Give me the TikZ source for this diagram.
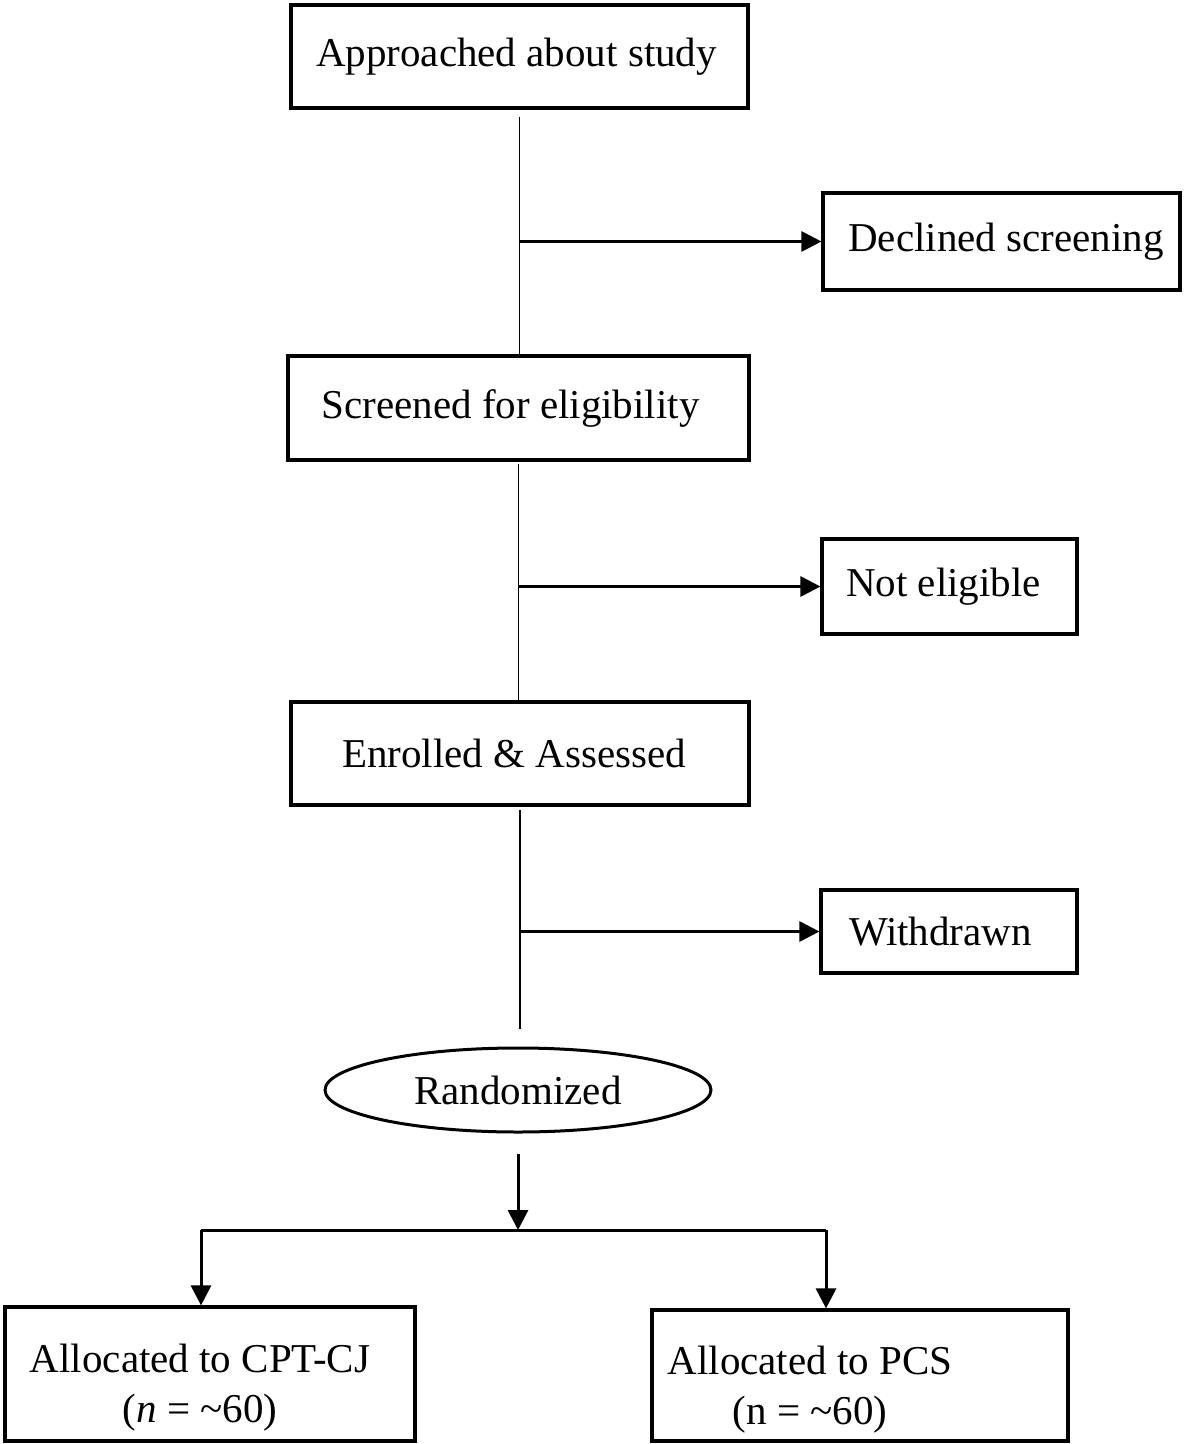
\documentclass[tikz,border=0pt]{standalone}
\usepackage{fontspec}
\setmainfont{Liberation Serif}
\usetikzlibrary{arrows.meta,shapes.geometric}

\begin{document}
\begin{tikzpicture}[x=0.5pt,y=0.5pt,yscale=-1,xscale=1,
  box/.style={draw,line width=1.6pt,inner sep=0pt,align=center,
    font=\fontsize{20.5}{25}\selectfont},
  oval/.style={draw,ellipse,line width=1.5pt,inner sep=0pt,
    font=\fontsize{20.5}{25}\selectfont},
  trunk/.style={line width=0.9pt},
  arr/.style={line width=1.5pt,-{Triangle[length=10pt,width=10pt]}}]
\useasboundingbox (0,0) rectangle (1184,1444);

%Shape: Rectangle
\node[box,minimum width=228.5pt,minimum height=51.5pt] (approach) at (519.5,56.5) {Approached about study\hspace*{3pt}};
%Shape: Rectangle
\node[box,minimum width=178.5pt,minimum height=48.5pt] (declined) at (1001.5,241.5) {\hspace*{4.5pt}Declined screening};
%Shape: Rectangle
\node[box,minimum width=230.5pt,minimum height=52pt] (screened) at (518.5,408) {Screened for eligibility\hspace*{8pt}};
%Shape: Rectangle
\node[box,minimum width=127.5pt,minimum height=47.5pt] (noteligible) at (949.5,586.5) {Not eligible\hspace*{6pt}};
%Shape: Rectangle
\node[box,minimum width=229pt,minimum height=51.5pt] (enrolled) at (520,753.5) {Enrolled \& Assessed\hspace*{6pt}};
%Shape: Rectangle
\node[box,minimum width=128pt,minimum height=41.5pt] (withdrawn) at (949,931.5) {Withdrawn\hspace*{8.5pt}};
%Shape: Ellipse
\node[oval,minimum width=193pt,minimum height=42pt] (random) at (518,1090) {Randomized};
%Shape: Rectangle
\node[box,minimum width=205pt,minimum height=67pt] (cptcj) at (210,1374)
  {\rule{0pt}{28pt}Allocated to CPT-CJ\hspace*{10pt}\\(\textit{n} = \textasciitilde60)\hspace*{10pt}};
%Shape: Rectangle
\node[box,minimum width=208pt,minimum height=65.5pt] (pcs) at (860,1375.5)
  {\rule{0pt}{28pt}Allocated to PCS\hspace*{50pt}\\(n = \textasciitilde60)\hspace*{50pt}};

%Straight Lines
\draw[trunk,shorten <=3.5pt] (approach.south) -- (approach.south |- screened.north);
\draw[arr] (approach.south |- declined.west) -- (declined.west);
%Straight Lines
\draw[trunk,shorten <=1pt] (screened.south) -- (screened.south |- enrolled.north);
\draw[arr] (screened.south |- noteligible.west) -- (noteligible.west);
%Straight Lines
\draw[trunk,shorten <=1.5pt,shorten >=9pt] (enrolled.south) -- (enrolled.south |- random.north);
\draw[arr] (enrolled.south |- withdrawn.west) -- (withdrawn.west);

% split below randomisation
\coordinate (split) at (518,1230);
\coordinate (splitl) at (201,1230);
\coordinate (splitr) at (826,1230);
\draw[arr,shorten <=10pt] (random.south) -- (split);
\draw[line width=1.5pt] (splitl) -- (splitr);
\draw[arr] (splitl) -- (splitl |- cptcj.north);
\draw[arr] (splitr) -- (splitr |- pcs.north);

\end{tikzpicture}
\end{document}
